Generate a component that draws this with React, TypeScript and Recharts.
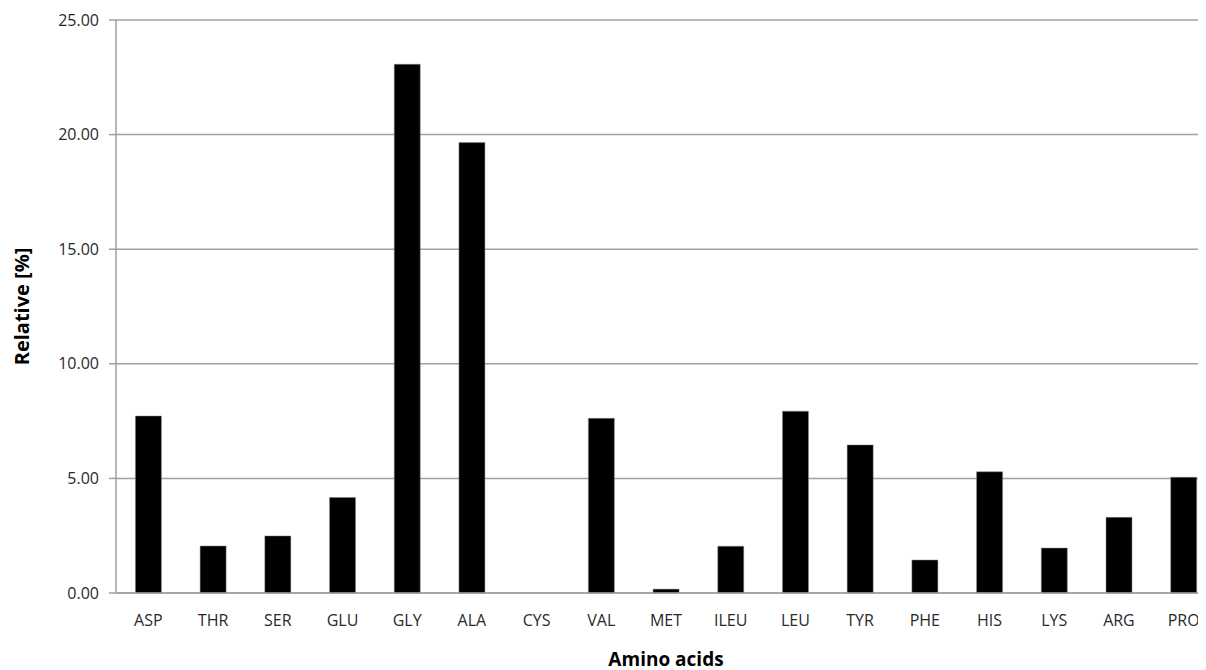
import { BarChart, Bar, XAxis, YAxis, CartesianGrid } from "recharts";

const AMINO_ACIDS = ["ASP", "THR", "SER", "GLU", "GLY", "ALA", "CYS", "VAL", "MET", "ILEU", "LEU", "TYR", "PHE", "HIS", "LYS", "ARG", "PRO"];
const RELATIVE = [7.72, 2.05, 2.49, 4.17, 23.07, 19.65, 0, 7.62, 0.17, 2.04, 7.93, 6.46, 1.44, 5.29, 1.96, 3.3, 5.05];
const Y_TICKS = [0, 5, 10, 15, 20, 25];

const data = AMINO_ACIDS.map((name, i) => ({ name, value: RELATIVE[i] }));

const FONT = "'Open Sans', sans-serif";

export default function App() {
  return (
    <div style={{ width: 1210, height: 662, fontFamily: FONT }}>
      <BarChart
        width={1210}
        height={662}
        data={data}
        margin={{ top: 12, right: 2, left: 0, bottom: 0 }}
        barCategoryGap="30%"
      >
        <CartesianGrid horizontal vertical={false} stroke="#a0a0a0" strokeWidth={1.5} />
        <XAxis
          dataKey="name"
          height={77}
          tickLine={false}
          tickSize={0}
          tickMargin={22}
          axisLine={{ stroke: "#a0a0a0", strokeWidth: 1.5 }}
          tick={{ fill: "#2a2a2a", fontSize: 16, fontFamily: FONT }}
          interval={0}
          label={{
            value: "Amino acids",
            position: "insideBottom",
            offset: 4,
            fill: "#000",
            fontSize: 19,
            fontWeight: 700,
            fontFamily: FONT,
          }}
        />
        <YAxis
          width={108}
          domain={[0, 25]}
          ticks={Y_TICKS}
          tickFormatter={(v: number) => v.toFixed(2)}
          tickSize={7}
          tickMargin={10}
          tickLine={{ stroke: "#a0a0a0", strokeWidth: 1.5 }}
          axisLine={{ stroke: "#a0a0a0", strokeWidth: 1.5 }}
          tick={{ fill: "#2a2a2a", fontSize: 16, fontFamily: FONT }}
          label={{
            value: "Relative [%]",
            angle: -90,
            position: "center",
            dx: -40,
            fill: "#000",
            fontSize: 20,
            fontWeight: 700,
            fontFamily: FONT,
          }}
        />
        <Bar dataKey="value" fill="#000" stroke="#888" strokeWidth={0.5} isAnimationActive={false} />
      </BarChart>
    </div>
  );
}
